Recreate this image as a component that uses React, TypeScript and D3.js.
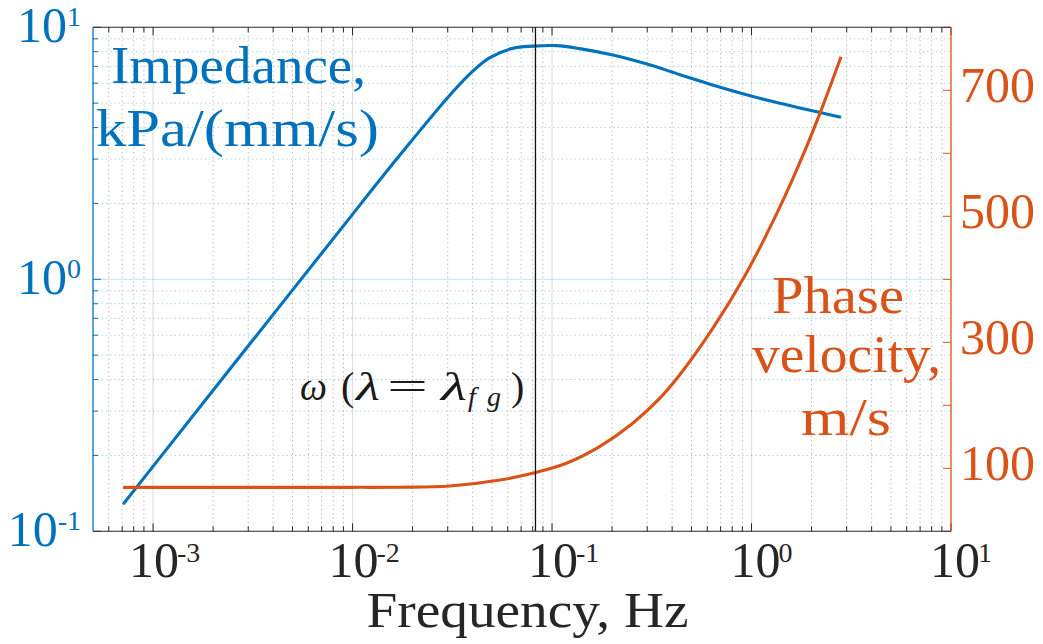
import React from 'react';
import * as d3 from 'd3';

// Impedance curve (kPa/(mm/s)) vs frequency (Hz)
const freqImp = [7.08e-4, 1e-3, 3.16e-3, 1e-2, 0.01274, 0.0202, 0.0308, 0.0403, 0.0488, 0.0638, 0.0804, 0.1052, 0.1375, 0.2018, 0.2965, 0.4349, 0.638, 0.974, 1.429, 2.265, 2.81];
const impedance = [0.128, 0.181, 0.573, 1.81, 2.31, 3.62, 5.39, 6.73, 7.58, 8.26, 8.42, 8.46, 8.23, 7.76, 7.16, 6.50, 5.90, 5.36, 4.97, 4.57, 4.40];

// Phase velocity curve (m/s) vs frequency (Hz)
const freqVel = [7.08e-4, 1e-2, 0.01731, 0.0308, 0.0548, 0.0819, 0.118, 0.173, 0.254, 0.3454, 0.4349, 0.638, 0.939, 1.375, 1.87, 2.265, 2.81];
const velocity = [69.8, 69.8, 70.0, 71.9, 81.4, 93.0, 108.0, 134.5, 171.6, 210.5, 247.6, 321.6, 409.0, 512.1, 607.5, 673.3, 753.2];

const markerFreq = 0.0826;

const xDomain = [5e-4, 10];
const xMajor = [1e-3, 1e-2, 1e-1, 1e0, 1e1];
const xMajorExp = ['-3', '-2', '-1', '0', '1'];
const yLeftDomain = [0.1, 10];
const yLeftMajor = [0.1, 1, 10];
const yLeftExp = ['-1', '0', '1'];
const yRightDomain = [0, 800];
const yRightTicks = [0, 100, 200, 300, 400, 500, 600, 700, 800];
const yRightLabels = [100, 300, 500, 700];

const BLUE = '#0072BD';
const ORANGE = '#D95319';
const DARK = '#262626';
const FONT = '"Liberation Serif", "DejaVu Serif", serif';

const L = 93, R = 951, T = 27.3, B = 531.3;

export default function App() {
  const x = d3.scaleLog().domain(xDomain).range([L, R]);
  const yL = d3.scaleLog().domain(yLeftDomain).range([B, T]);
  const yR = d3.scaleLinear().domain(yRightDomain).range([B, T]);

  const xMinor: number[] = [];
  for (let e = -4; e <= 0; e++) for (let k = 2; k <= 9; k++) {
    const v = k * Math.pow(10, e);
    if (v > xDomain[0] && v < xDomain[1]) xMinor.push(v);
  }
  const yMinor: number[] = [];
  for (let e = -1; e <= 0; e++) for (let k = 2; k <= 9; k++) yMinor.push(k * Math.pow(10, e));

  const lineGen = d3.line<[number, number]>().x(d => d[0]).y(d => d[1]).curve(d3.curveCatmullRom.alpha(0.5));
  const impPath = lineGen(freqImp.map((f, i) => [x(f), yL(impedance[i])] as [number, number]))!;
  const velPath = lineGen(freqVel.map((f, i) => [x(f), yR(velocity[i])] as [number, number]))!;

  return (
    <svg width={1043} height={644} style={{ position: 'absolute', left: 0, top: 0, background: '#fff' }} fontFamily={FONT}>
      <rect x={0} y={0} width={1043} height={644} fill="#fff" />
      {/* grid */}
      <g>
        {xMinor.map((v, i) => (
          <line key={'xm' + i} x1={x(v)} x2={x(v)} y1={T} y2={B} stroke={DARK} strokeOpacity={0.38} strokeWidth={0.9} strokeDasharray="1.3 3" />
        ))}
        {yMinor.map((v, i) => (
          <line key={'ym' + i} x1={L} x2={R} y1={yL(v)} y2={yL(v)} stroke={BLUE} strokeOpacity={0.4} strokeWidth={0.9} strokeDasharray="1.3 3" />
        ))}
        {xMajor.slice(0, 4).map((v, i) => (
          <line key={'xM' + i} x1={x(v)} x2={x(v)} y1={T} y2={B} stroke={DARK} strokeOpacity={0.15} strokeWidth={1.2} />
        ))}
        <line x1={L} x2={R} y1={yL(1)} y2={yL(1)} stroke={BLUE} strokeOpacity={0.17} strokeWidth={1.2} />
      </g>

      {/* ticks */}
      <g stroke={DARK} strokeWidth={1}>
        {xMajor.map((v, i) => (
          <g key={'xt' + i}>
            <line x1={x(v)} x2={x(v)} y1={B} y2={B - 8} />
            <line x1={x(v)} x2={x(v)} y1={T} y2={T + 8} />
          </g>
        ))}
        {xMinor.map((v, i) => (
          <g key={'xmt' + i}>
            <line x1={x(v)} x2={x(v)} y1={B} y2={B - 5} />
            <line x1={x(v)} x2={x(v)} y1={T} y2={T + 5} />
          </g>
        ))}
      </g>
      <g stroke={BLUE} strokeWidth={1}>
        {yMinor.map((v, i) => (
          <line key={'ylt' + i} x1={L} x2={L + 5} y1={yL(v)} y2={yL(v)} />
        ))}
        {yLeftMajor.map((v, i) => (
          <line key={'ylM' + i} x1={L} x2={L + 8} y1={yL(v)} y2={yL(v)} />
        ))}
      </g>
      <g stroke={ORANGE} strokeWidth={1}>
        {yRightTicks.map((v, i) => (
          <line key={'yrt' + i} x1={R} x2={R - 8} y1={yR(v)} y2={yR(v)} />
        ))}
      </g>

      {/* curves */}
      <path d={impPath} fill="none" stroke={BLUE} strokeWidth={3.1} strokeLinejoin="round" />
      <path d={velPath} fill="none" stroke={ORANGE} strokeWidth={3.1} strokeLinejoin="round" />

      {/* marker line */}
      <line x1={x(markerFreq)} x2={x(markerFreq)} y1={T} y2={B} stroke="#111" strokeWidth={1.3} />

      {/* axes box */}
      <line x1={L} x2={R} y1={T} y2={T} stroke={DARK} strokeWidth={1.1} />
      <line x1={L} x2={R} y1={B} y2={B} stroke={DARK} strokeWidth={1.1} />
      <line x1={L} x2={L} y1={T} y2={B} stroke={BLUE} strokeWidth={1.3} />
      <line x1={R} x2={R} y1={T} y2={B} stroke={ORANGE} strokeWidth={1.3} />

      {/* x tick labels */}
      <g fill={DARK}>
        {xMajor.map((v, i) => {
          const c = x(v) + (xMajorExp[i].startsWith('-') ? 1 : 4);
          return (
            <g key={'xl' + i}>
              <text x={c} y={577} fontSize={50} textAnchor="middle">10</text>
              <text x={c + 23} y={562} fontSize={28}>{xMajorExp[i]}</text>
            </g>
          );
        })}
      </g>

      {/* left tick labels */}
      <g fill={BLUE}>
        {yLeftMajor.map((v, i) => (
          <text key={'yl' + i} x={81} y={yL(v) + 15} fontSize={50} textAnchor="end">
            10<tspan dy={-16} fontSize={28}>{yLeftExp[i]}</tspan>
          </text>
        ))}
      </g>

      {/* right tick labels */}
      <g fill={ORANGE}>
        {yRightLabels.map((v, i) => (
          <text key={'yr' + i} x={960} y={yR(v) + 12} fontSize={50}>{v}</text>
        ))}
      </g>

      {/* axis labels */}
      <text x={527.5} y={626.7} fontSize={50} fill={DARK} textAnchor="middle" textLength={322} lengthAdjust="spacingAndGlyphs">Frequency, Hz</text>
      <text x={238.5} y={83} fontSize={52} fill={BLUE} textAnchor="middle" textLength={255} lengthAdjust="spacingAndGlyphs">Impedance,</text>
      <text x={237.5} y={146} fontSize={52} fill={BLUE} textAnchor="middle" textLength={283} lengthAdjust="spacingAndGlyphs">kPa/(mm/s)</text>
      <text x={838} y={312.7} fontSize={52} fill={ORANGE} textAnchor="middle" textLength={132} lengthAdjust="spacingAndGlyphs">Phase</text>
      <text x={846.5} y={371.7} fontSize={52} fill={ORANGE} textAnchor="middle" textLength={189} lengthAdjust="spacingAndGlyphs">velocity,</text>
      <text x={846} y={435} fontSize={52} fill={ORANGE} textAnchor="middle" textLength={90} lengthAdjust="spacingAndGlyphs">m/s</text>

      {/* annotation */}
      <g fill="#1a1a1a" fontSize={40}>
        <text x={300} y={400} fontStyle="italic" textLength={27} lengthAdjust="spacingAndGlyphs">ω</text>
        <text x={341} y={400}>(</text>
        <text x={356} y={400} fontStyle="italic" textLength={24} lengthAdjust="spacingAndGlyphs">λ</text>
        <text x={387} y={400} textLength={41} lengthAdjust="spacingAndGlyphs">=</text>
        <text x={441} y={400} fontStyle="italic" textLength={26} lengthAdjust="spacingAndGlyphs">λ</text>
        <text x={468} y={406} fontSize={28} fontStyle="italic">f</text>
        <text x={487} y={406} fontSize={28} fontStyle="italic">g</text>
        <text x={511} y={400}>)</text>
      </g>
    </svg>
  );
}
